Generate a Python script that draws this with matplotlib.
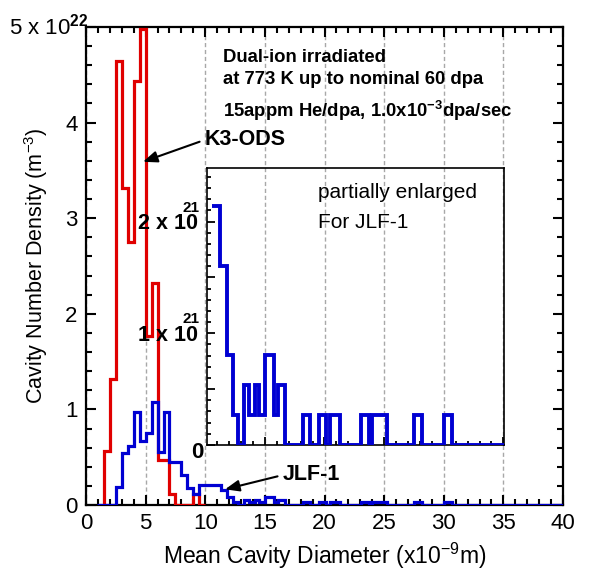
import matplotlib
matplotlib.use("Agg")
import matplotlib.pyplot as plt
from matplotlib.ticker import MultipleLocator, FixedLocator

plt.rcParams['font.family'] = ['Liberation Sans', 'DejaVu Sans']
plt.rcParams['mathtext.fontset'] = 'custom'
plt.rcParams['mathtext.rm'] = 'Liberation Sans'
plt.rcParams['mathtext.it'] = 'Liberation Sans:italic'
plt.rcParams['mathtext.bf'] = 'Liberation Sans:bold'

# Cavity size distributions (x10^22 m^-3 per bin), bin edges in nm
k3_edges = [1.5, 2.0, 2.5, 3.0, 3.5, 4.0, 4.5, 5.0, 5.5, 6.0, 6.5, 7.0,
            7.5, 8.0, 8.5, 9.0, 9.5, 10.0]
k3_density = [0.56, 1.32, 4.64, 3.32, 2.75, 4.43, 4.98, 1.77, 2.32, 0.47,
              0.47, 0.12, 0.0, 0.0, 0.0, 0.12, 0.0]

jlf_edges = [0.9, 2.5, 3.0, 3.5, 4.0, 4.5, 5.0, 5.5, 6.0, 6.5, 7.0, 8.0,
             8.5, 9.0, 9.5, 10.6, 11.28, 11.79, 12.29, 12.77, 13.23, 13.63,
             14.14, 14.53, 15.03, 15.73, 16.07, 16.71, 18.16, 18.8, 19.55,
             20.15, 20.5, 21.3, 23.05, 23.7, 24.0, 25.2, 27.5, 28.15, 30.0,
             30.7, 40.0]
jlf_density = [0.0, 0.19, 0.54, 0.62, 0.97, 0.67, 0.75, 1.08, 0.55, 0.97,
               0.45, 0.31, 0.18, 0.12, 0.214, 0.214, 0.160, 0.081, 0.027,
               0.0, 0.054, 0.027, 0.054, 0.027, 0.081, 0.027, 0.054, 0.0,
               0.027, 0.0, 0.027, 0.0, 0.027, 0.0, 0.027, 0.0, 0.027, 0.0,
               0.027, 0.0, 0.027, 0.0]

x_ticks = [0, 5, 10, 15, 20, 25, 30, 35, 40]
y_ticks = [0, 1, 2, 3, 4, 5]
y_tick_labels = ['0', '1', '2', '3', '4', '']

inset_start = 10.6  # enlarged view of JLF-1 begins here

RED = '#e00000'
BLUE = '#0000d2'
GRID = '#a8a8a8'

fig = plt.figure(figsize=(5.89, 5.72), dpi=100)
ax = fig.add_axes([0.14601, 0.11713, 0.80985, 0.83566])

ax.set_xlim(0, 40)
ax.set_ylim(0, 5)
ax.xaxis.set_major_locator(FixedLocator(x_ticks))
ax.xaxis.set_minor_locator(MultipleLocator(1))
ax.yaxis.set_major_locator(FixedLocator(y_ticks))
ax.yaxis.set_minor_locator(MultipleLocator(0.2))
ax.set_yticklabels(y_tick_labels)
ax.tick_params(which='both', direction='in', top=True, right=True,
               width=1.5, labelsize=16, pad=6)
ax.tick_params(which='major', length=7)
ax.tick_params(which='minor', length=4)
for s in ax.spines.values():
    s.set_linewidth(1.6)

ax.grid(axis='x', which='major', color=GRID, linestyle=(0, (3, 2)), lw=1.0)
ax.set_axisbelow(True)

ax.stairs(k3_density, k3_edges, baseline=0, color=RED, lw=2.3, zorder=3)
ax.stairs(jlf_density, jlf_edges, baseline=0, color=BLUE, lw=2.3, zorder=4)

ax.set_xlabel('Mean Cavity Diameter (x10$^{-9}$m)', fontsize=16.5, labelpad=5)
ax.set_ylabel('Cavity Number Density (m$^{-3}$)', fontsize=15.5, labelpad=11)

# top y tick label with the exponent
ax.annotate(r'5 x 10$^{\mathbf{22}}$', xy=(0, 5), xycoords='data',
            xytext=(-77, 0), textcoords='offset pixels',
            ha='left', va='center', fontsize=16, annotation_clip=False)

# annotations
bold = dict(fontweight='bold')
ax.text(11.49, 4.676, 'Dual-ion irradiated', fontsize=13.3, va='center', **bold)
ax.text(11.49, 4.446, 'at 773 K up to nominal 60 dpa', fontsize=13.3,
        va='center', **bold)
ax.text(11.49, 4.121, r'15appm He/dpa, 1.0x10$^{\mathbf{-3}}$dpa/sec',
        fontsize=13.3, va='center', **bold)

arrow = dict(arrowstyle='-|>,head_length=0.55,head_width=0.22', color='black',
             lw=1.5, shrinkA=2, shrinkB=0, relpos=(0, 0.5))
ax.annotate('K3-ODS', xy=(4.78, 3.59), xytext=(9.98, 3.82), fontsize=15.5,
            fontweight='bold', ha='left', va='center', arrowprops=arrow,
            zorder=6)
ax.annotate('JLF-1', xy=(11.66, 0.164), xytext=(16.52, 0.314), fontsize=15.5,
            fontweight='bold', ha='left', va='center', arrowprops=arrow,
            zorder=6)

# enlarged inset for JLF-1 (x10^21 m^-3)
ins = fig.add_axes([0.35144, 0.22203, 0.50424, 0.48427])
ins.set_facecolor('none')
ins.set_xlim(10.15, 35.05)
ins.set_ylim(0, 2.48)
i0 = jlf_edges.index(inset_start)
ins.stairs([v * 10 for v in jlf_density[i0:]], jlf_edges[i0:], baseline=None,
           color=BLUE, lw=2.8, zorder=4)
ins.xaxis.set_major_locator(MultipleLocator(5))
ins.xaxis.set_minor_locator(MultipleLocator(1))
ins.yaxis.set_major_locator(MultipleLocator(0.5))
ins.yaxis.set_minor_locator(MultipleLocator(0.1))
ins.tick_params(which='both', direction='in', labelbottom=False,
                labelleft=False, width=1.3)
ins.tick_params(which='major', length=5.5)
ins.tick_params(which='minor', length=3)
for s in ins.spines.values():
    s.set_linewidth(1.2)

for val, lab in [(2, '2 x 10'), (1, '1 x 10')]:
    ins.annotate(lab, xy=(0, val), xycoords=('axes fraction', 'data'),
                 xytext=(-9, -2), textcoords='offset pixels', ha='right',
                 va='center', fontsize=15.5, fontweight='bold')
    ins.annotate('21', xy=(0, val), xycoords=('axes fraction', 'data'),
                 xytext=(-7, 14), textcoords='offset pixels', ha='right',
                 va='center', fontsize=11, fontweight='bold')
ins.annotate('0', xy=(0, 0), xycoords=('axes fraction', 'data'),
             xytext=(-3, -8), textcoords='offset pixels', ha='right',
             va='center', fontsize=16, fontweight='bold',
             annotation_clip=False)

ins.text(0.374, 0.91, 'partially enlarged', transform=ins.transAxes,
         fontsize=15, va='center')
ins.text(0.374, 0.805, 'For JLF-1', transform=ins.transAxes,
         fontsize=15, va='center')

fig.savefig('out.png', dpi=100)
